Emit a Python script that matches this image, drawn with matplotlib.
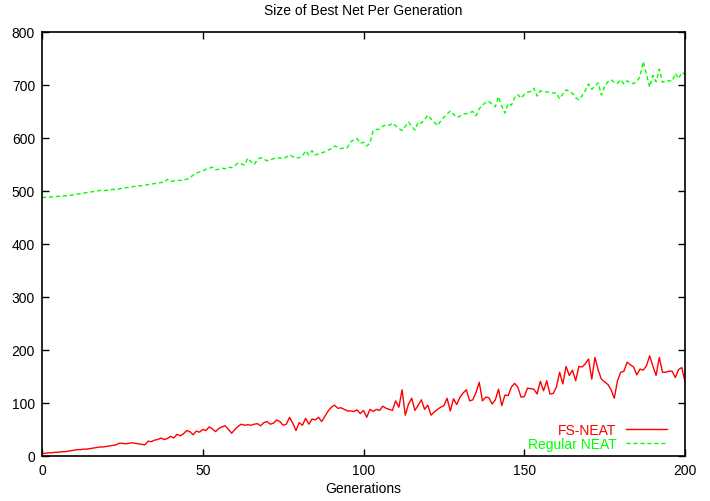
import matplotlib
matplotlib.use("Agg")
import matplotlib.pyplot as plt
import numpy as np

generations = list(range(0, 201))

regular_neat = [
    488, 488, 488, 489, 489, 490, 490, 491, 491, 492,
    493, 494, 495, 496, 497, 498, 499, 500, 501, 501,
    501, 502, 503, 503, 504, 505, 506, 507, 508, 509,
    510, 510, 511, 512, 513, 514, 515, 516, 516, 522,
    518, 519, 520, 520, 521, 522, 525, 530, 534, 536,
    538, 541, 543, 545, 540, 541, 543, 542, 545, 544,
    548, 553, 551, 549, 562, 555, 550, 559, 563, 560,
    557, 559, 561, 563, 562, 561, 564, 568, 565, 562,
    563, 566, 576, 568, 576, 568, 570, 572, 574, 577,
    580, 585, 582, 580, 581, 582, 593, 596, 599, 590,
    592, 585, 590, 614, 616, 617, 622, 625, 624, 628,
    623, 618, 614, 622, 630, 622, 615, 630, 628, 635,
    643, 636, 630, 623, 632, 639, 645, 651, 645, 639,
    641, 645, 646, 648, 650, 642, 655, 662, 667, 669,
    664, 659, 678, 660, 647, 665, 662, 676, 682, 675,
    682, 686, 688, 694, 679, 689, 688, 687, 686, 685,
    685, 674, 683, 691, 688, 684, 676, 672, 680, 690,
    702, 692, 698, 704, 681, 698, 706, 710, 705, 703,
    710, 702, 708, 703, 703, 706, 716, 744, 720, 696,
    718, 706, 730, 705, 708, 708, 707, 722, 712, 724,
    720,
]

fs_neat = [
    5, 5, 6, 6, 7, 7, 8, 8, 9, 10,
    11, 12, 12, 13, 13, 14, 15, 16, 17, 17,
    18, 19, 20, 21, 24, 24, 23, 24, 25, 24,
    23, 22, 21, 28, 27, 30, 31, 34, 31, 33,
    37, 34, 41, 38, 42, 48, 46, 40, 47, 45,
    50, 48, 55, 51, 46, 52, 55, 57, 50, 43,
    50, 56, 60, 58, 59, 58, 60, 61, 57, 63,
    65, 60, 62, 68, 65, 58, 60, 73, 62, 48,
    63, 58, 71, 60, 70, 68, 73, 65, 75, 85,
    92, 96, 90, 91, 88, 85, 85, 84, 87, 80,
    86, 73, 88, 84, 88, 86, 94, 90, 88, 86,
    104, 92, 125, 77, 98, 109, 86, 96, 106, 88,
    96, 77, 83, 88, 92, 95, 109, 85, 108, 97,
    111, 119, 125, 104, 106, 120, 139, 104, 111, 110,
    98, 106, 126, 95, 115, 114, 130, 137, 130, 111,
    112, 128, 127, 126, 117, 141, 123, 142, 117, 118,
    130, 158, 136, 169, 152, 162, 142, 169, 168, 174,
    183, 145, 186, 162, 145, 140, 135, 125, 109, 142,
    158, 160, 177, 172, 168, 153, 164, 162, 170, 189,
    170, 152, 186, 158, 158, 160, 160, 148, 163, 167,
    140,
]

x_ticks = [0, 50, 100, 150, 200]
y_ticks = [0, 100, 200, 300, 400, 500, 600, 700, 800]

plt.rcParams['font.family'] = ['Liberation Sans', 'DejaVu Sans']

fig = plt.figure(figsize=(7.10, 5.02), dpi=100)
ax = fig.add_axes([42/710, 45/502, 643/710, 424/502])

ax.plot(generations, fs_neat, color='#ff0000', lw=1.0, label='FS-NEAT')
ax.plot(generations, regular_neat, color='#00ff00', lw=1.0,
        linestyle=(0, (3, 2)), label='Regular NEAT')

ax.set_xlim(0, 200)
ax.set_ylim(0, 800)
ax.set_xticks(x_ticks)
ax.set_yticks(y_ticks)
ax.tick_params(direction='in', length=5, width=1, top=True, right=True,
               labelsize=10, pad=5)
for s in ax.spines.values():
    s.set_linewidth(1.2)

ax.set_title('Size of Best Net Per Generation', fontsize=10, pad=13)
ax.set_xlabel('Generations', fontsize=10, labelpad=3)

leg = ax.legend(loc='lower right', markerfirst=False, frameon=False,
                labelcolor='linecolor', fontsize=10, handlelength=2.9,
                handletextpad=0.7, borderaxespad=0.0, labelspacing=0.05,
                bbox_to_anchor=(0.98, -0.002))

fig.savefig('out.png', dpi=100)
